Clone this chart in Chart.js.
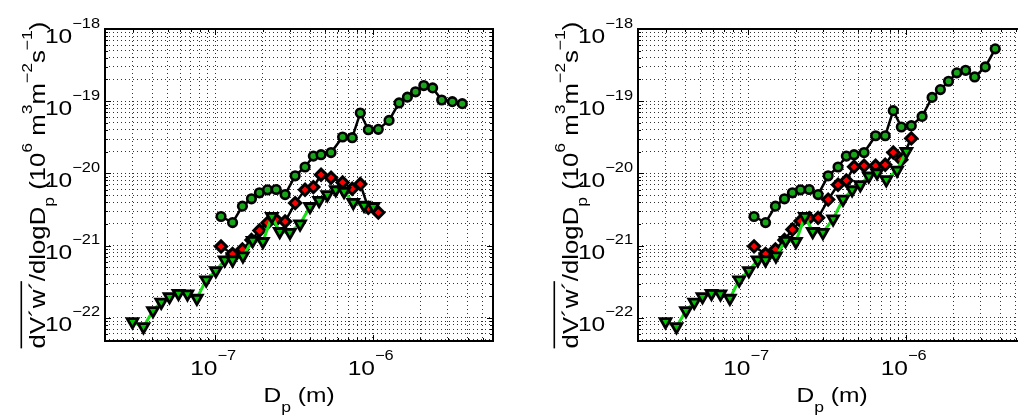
<!DOCTYPE html>
<html>
<head>
<meta charset="utf-8">
<script src="https://cdn.jsdelivr.net/npm/chart.js@4.4.0/dist/chart.umd.min.js"></script>
<style>
  html, body { margin: 0; padding: 0; background: #fff; overflow: hidden; width: 1018px; height: 416px; }
  canvas { position: absolute; top: 0; }
  #left { left: 0; }
  #right { left: 533px; }
</style>
</head>
<body>
<canvas id="left" width="533" height="416"></canvas>
<canvas id="right" width="533" height="416"></canvas>
<script>
// size bins (m)
const dpSmall = [2.99e-8, 3.51e-8, 4.03e-8, 4.55e-8, 5.13e-8, 5.85e-8, 6.67e-8, 7.66e-8, 8.77e-8,
  1.01e-7, 1.15e-7, 1.29e-7, 1.50e-7, 1.73e-7, 2.01e-7, 2.29e-7, 2.57e-7, 2.98e-7, 3.46e-7,
  4.00e-7, 4.57e-7, 5.15e-7, 5.83e-7, 6.58e-7, 7.53e-7, 8.81e-7, 1.01e-6];
const dpLarge = [1.09e-7, 1.29e-7, 1.49e-7, 1.70e-7, 1.91e-7, 2.15e-7, 2.44e-7, 2.78e-7, 3.22e-7,
  3.72e-7, 4.20e-7, 4.70e-7, 5.44e-7, 6.44e-7, 7.41e-7, 8.34e-7, 9.38e-7, 1.085e-6, 1.27e-6,
  1.47e-6, 1.66e-6, 1.87e-6, 2.11e-6, 2.40e-6, 2.74e-6, 3.20e-6, 3.70e-6];

// left panel
const circlesL = [2.54e-21, 2.09e-21, 3.53e-21, 4.46e-21, 5.40e-21, 5.94e-21, 6.0e-21, 5.11e-21, 9.29e-21,
  1.23e-20, 1.74e-20, 1.82e-20, 1.95e-20, 3.20e-20, 3.13e-20, 6.88e-20, 4.04e-20, 4.08e-20, 5.43e-20,
  9.47e-20, 1.14e-19, 1.35e-19, 1.65e-19, 1.53e-19, 1.04e-19, 9.87e-20, 9.26e-20];
const diamondsL = [9.78e-22, 7.7e-22, 8.89e-22, 1.20e-21, 1.62e-21, 2.07e-21, 2.28e-21, 2.16e-21, 3.89e-21,
  5.94e-21, 6.48e-21, 9.59e-21, 8.72e-21, 7.50e-21, 6.13e-21, 7.15e-21, 3.34e-21, 2.88e-21];
const trianglesL = [8.86e-23, 7.55e-23, 1.26e-22, 1.65e-22, 1.97e-22, 2.19e-22, 2.15e-22, 1.87e-22, 3.36e-22,
  4.52e-22, 6.35e-22, 6.35e-22, 7.22e-22, 1.18e-21, 1.14e-21, 2.54e-21, 1.57e-21, 1.53e-21, 2.00e-21,
  3.48e-21, 4.22e-21, 5.07e-21, 5.94e-21, 5.63e-21, 3.96e-21, 3.62e-21, 3.48e-21];

// right panel
const circlesR = [2.54e-21, 2.09e-21, 3.53e-21, 4.46e-21, 5.40e-21, 5.94e-21, 6.0e-21, 5.11e-21, 9.29e-21,
  1.23e-20, 1.74e-20, 1.82e-20, 1.95e-20, 3.33e-20, 3.33e-20, 7.41e-20, 4.40e-20, 4.59e-20, 6.17e-20,
  1.13e-19, 1.45e-19, 1.89e-19, 2.47e-19, 2.68e-19, 2.17e-19, 2.99e-19, 5.31e-19];
const diamondsR = [9.8e-22, 7.7e-22, 8.89e-22, 1.20e-21, 1.68e-21, 2.2e-21, 2.41e-21, 2.43e-21, 4.35e-21,
  6.97e-21, 8.0e-21, 1.24e-20, 1.28e-20, 1.28e-20, 1.32e-20, 1.95e-20, 1.55e-20, 3.06e-20];
const trianglesR = [8.86e-23, 7.55e-23, 1.26e-22, 1.65e-22, 1.97e-22, 2.19e-22, 2.15e-22, 1.87e-22, 3.36e-22,
  4.52e-22, 6.35e-22, 6.35e-22, 7.22e-22, 1.18e-21, 1.14e-21, 2.54e-21, 1.57e-21, 1.53e-21, 2.35e-21,
  4.39e-21, 5.94e-21, 6.97e-21, 9.20e-21, 1.02e-20, 8.18e-21, 1.11e-20, 2.02e-20];

// axes
const xDecades = [-8, -7, -6];
const yDecades = [-23, -22, -21, -20, -19, -18];
const xLabelExps = [-7, -6];
const yLabelExps = [-22, -21, -20, -19, -18];
const xMin = 2e-8, xMax = 5.8e-6, yMin = 4.8e-23, yMax = 1e-18;

const FONT = '"Liberation Sans", Arial, sans-serif';
const STRETCH = 1.17;

function gridValues(decades, lo, hi) {
  const out = [];
  decades.forEach(e => {
    for (let m = 1; m <= 9; m++) {
      const v = m * Math.pow(10, e);
      if (v >= lo * 0.9999 && v <= hi * 1.0001) out.push(v);
    }
  });
  return out;
}
const xGrid = gridValues(xDecades, xMin, xMax);
const yGrid = gridValues(yDecades, yMin, yMax);

function isMajor(v) {
  const l = Math.log10(v);
  return Math.abs(l - Math.round(l)) < 1e-6;
}

function drawRich(ctx, parts, x, y, align, rot) {
  ctx.save();
  ctx.translate(x, y);
  if (rot) ctx.rotate(rot);
  ctx.scale(STRETCH, 1);
  let w = 0;
  parts.forEach(p => { ctx.font = p.size + 'px ' + FONT; w += ctx.measureText(p.t).width; });
  let cx = align === 'center' ? -w / 2 : align === 'right' ? -w : 0;
  ctx.fillStyle = '#000';
  ctx.textAlign = 'left';
  ctx.textBaseline = 'alphabetic';
  parts.forEach(p => {
    ctx.font = p.size + 'px ' + FONT;
    ctx.fillText(p.t, cx, p.dy || 0);
    const pw = ctx.measureText(p.t).width;
    if (p.over !== undefined) ctx.fillRect(cx, p.over, pw, 1.6);
    cx += pw;
  });
  ctx.restore();
}

const matlabAxes = {
  id: 'matlabAxes',
  afterDraw(chart) {
    const { ctx, chartArea: a, scales: { x, y } } = chart;
    ctx.save();
    ctx.strokeStyle = '#000';
    ctx.lineWidth = 1;
    ctx.beginPath();
    x.ticks.forEach(t => {
      const px = Math.round(x.getPixelForValue(t.value)) + 0.5;
      const len = isMajor(t.value) ? 6 : 3;
      ctx.moveTo(px, a.bottom); ctx.lineTo(px, a.bottom - len);
      ctx.moveTo(px, a.top); ctx.lineTo(px, a.top + len);
    });
    y.ticks.forEach(t => {
      const py = Math.round(y.getPixelForValue(t.value)) + 0.5;
      const len = isMajor(t.value) ? 6 : 3;
      ctx.moveTo(a.left, py); ctx.lineTo(a.left + len, py);
      ctx.moveTo(a.right, py); ctx.lineTo(a.right - len, py);
    });
    ctx.stroke();
    ctx.lineWidth = 2;
    ctx.strokeRect(a.left, a.top, a.right - a.left, a.bottom - a.top);

    xLabelExps.forEach(e => {
      const px = x.getPixelForValue(Math.pow(10, e));
      drawRich(ctx, [{ t: '10', size: 21 }, { t: '\u2212' + Math.abs(e), size: 14, dy: -15 }], px - 2, a.bottom + 34, 'center');
    });
    yLabelExps.forEach(e => {
      const py = y.getPixelForValue(Math.pow(10, e));
      drawRich(ctx, [{ t: '10', size: 21 }, { t: '\u2212' + Math.abs(e), size: 14, dy: -15 }], a.left - 5, py + 13.5, 'right');
    });

    const cxm = (a.left + a.right) / 2;
    drawRich(ctx, [{ t: 'D', size: 21 }, { t: 'p', size: 15, dy: 10 }, { t: ' (m)', size: 21 }], cxm, 401.5, 'center');

    const cym = (a.top + a.bottom) / 2;
    drawRich(ctx, [
      { t: 'dV\u00b4w\u00b4', size: 22, over: -24 },
      { t: '/dlogD', size: 22 },
      { t: 'p', size: 15, dy: 9 },
      { t: ' (10', size: 22 },
      { t: '6', size: 15, dy: -13 },
      { t: ' m', size: 22 },
      { t: '3', size: 15, dy: -13 },
      { t: 'm', size: 22 },
      { t: '\u22122', size: 15, dy: -13 },
      { t: 's', size: 22 },
      { t: '\u22121', size: 15, dy: -13 },
      { t: ')', size: 22 }
    ], a.left - 60.5, cym, 'center', -Math.PI / 2);
    ctx.restore();
  }
};

function pts(xs, ys) {
  return ys.map((v, i) => ({ x: xs[i], y: v }));
}

function makePanel(id, circles, diamonds, triangles) {
  return new Chart(document.getElementById(id), {
    type: 'scatter',
    data: {
      datasets: [
        {
          data: pts(dpSmall, triangles), showLine: true, order: 0,
          borderColor: '#14e014', borderWidth: 3,
          pointStyle: 'triangle', rotation: 180, pointRadius: 6.2,
          pointBackgroundColor: '#00c400', pointBorderColor: '#000', pointBorderWidth: 2.8
        },
        {
          data: pts(dpLarge, diamonds), showLine: true, order: 1,
          borderColor: '#000', borderWidth: 2.5,
          pointStyle: 'rectRot', pointRadius: 5.6,
          pointBackgroundColor: '#ff0000', pointBorderColor: '#000', pointBorderWidth: 3
        },
        {
          data: pts(dpLarge, circles), showLine: true, order: 2,
          borderColor: '#000', borderWidth: 2.5,
          pointStyle: 'circle', pointRadius: 4.3,
          pointBackgroundColor: '#19a519', pointBorderColor: '#000', pointBorderWidth: 2.6
        }
      ]
    },
    options: {
      responsive: false,
      animation: false,
      events: [],
      layout: { padding: { left: 105, right: 40, top: 29, bottom: 75 } },
      plugins: { legend: { display: false }, tooltip: { enabled: false } },
      scales: {
        x: {
          type: 'logarithmic', min: xMin, max: xMax,
          afterBuildTicks: ax => { ax.ticks = xGrid.map(v => ({ value: v })); },
          ticks: { display: false },
          grid: { color: 'rgba(0,0,0,0.8)', lineWidth: 1, drawTicks: false },
          border: { display: false, dash: [1, 3] }
        },
        y: {
          type: 'logarithmic', min: yMin, max: yMax,
          afterBuildTicks: ax => { ax.ticks = yGrid.map(v => ({ value: v })); },
          ticks: { display: false },
          grid: { color: 'rgba(0,0,0,0.8)', lineWidth: 1, drawTicks: false },
          border: { display: false, dash: [1, 3] }
        }
      }
    },
    plugins: [matlabAxes]
  });
}

makePanel('left', circlesL, diamondsL, trianglesL);
makePanel('right', circlesR, diamondsR, trianglesR);
</script>
</body>
</html>
